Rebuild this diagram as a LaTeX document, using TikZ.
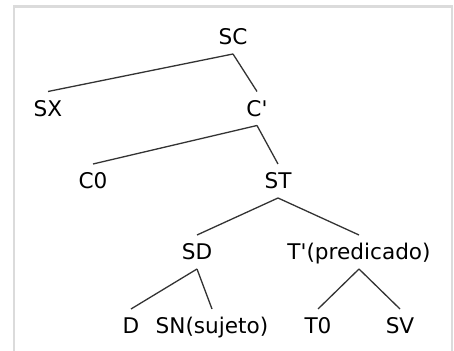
\documentclass[tikz,border=0pt]{standalone}
\usepackage{fontspec}
\setmainfont{DejaVu Sans}
\begin{document}
\begin{tikzpicture}[x=0.5pt,y=-0.5pt,
  cat/.style={inner xsep=0pt, inner ysep=4.4pt, text height=7.8pt, text depth=0pt, font=\fontsize{10.8}{12}\selectfont},
  branch/.style={draw, black!80, line width=0.65pt}]
\useasboundingbox (0,0) rectangle (454,351);
\draw[black!14, line width=1.2pt] (14,351) |- (452,6.5) -- (452,351);
\node[cat] (sc) at (233,37) {SC};
\node[cat] (sx) at (48,108.5) {SX};
\node[cat] (cbar) at (257,108.5) {C\textquotesingle};
\node[cat] (c0) at (93,181) {C0};
\node[cat] (st) at (278,181) {ST};
\node[cat] (sd) at (197,252) {SD};
\node[cat] (tbar) at (359,252) {T\textquotesingle(predicado)};
\node[cat] (d) at (131,326) {D};
\node[cat] (sn) at (212,326) {SN(sujeto)};
\node[cat] (t0) at (318,326) {T0};
\node[cat] (sv) at (400,326) {SV};
\path[branch] (sc.south) edge (sx.north);
\path[branch] (sc.south) edge (cbar.north);
\path[branch] (cbar.south) edge (c0.north);
\path[branch] (cbar.south) edge (st.north);
\path[branch] (st.south) edge (sd.north);
\path[branch] (st.south) edge (tbar.north);
\path[branch] (sd.south) edge (d.north);
\path[branch] (sd.south) edge (sn.north);
\path[branch] (tbar.south) edge (t0.north);
\path[branch] (tbar.south) edge (sv.north);
\end{tikzpicture}
\end{document}
